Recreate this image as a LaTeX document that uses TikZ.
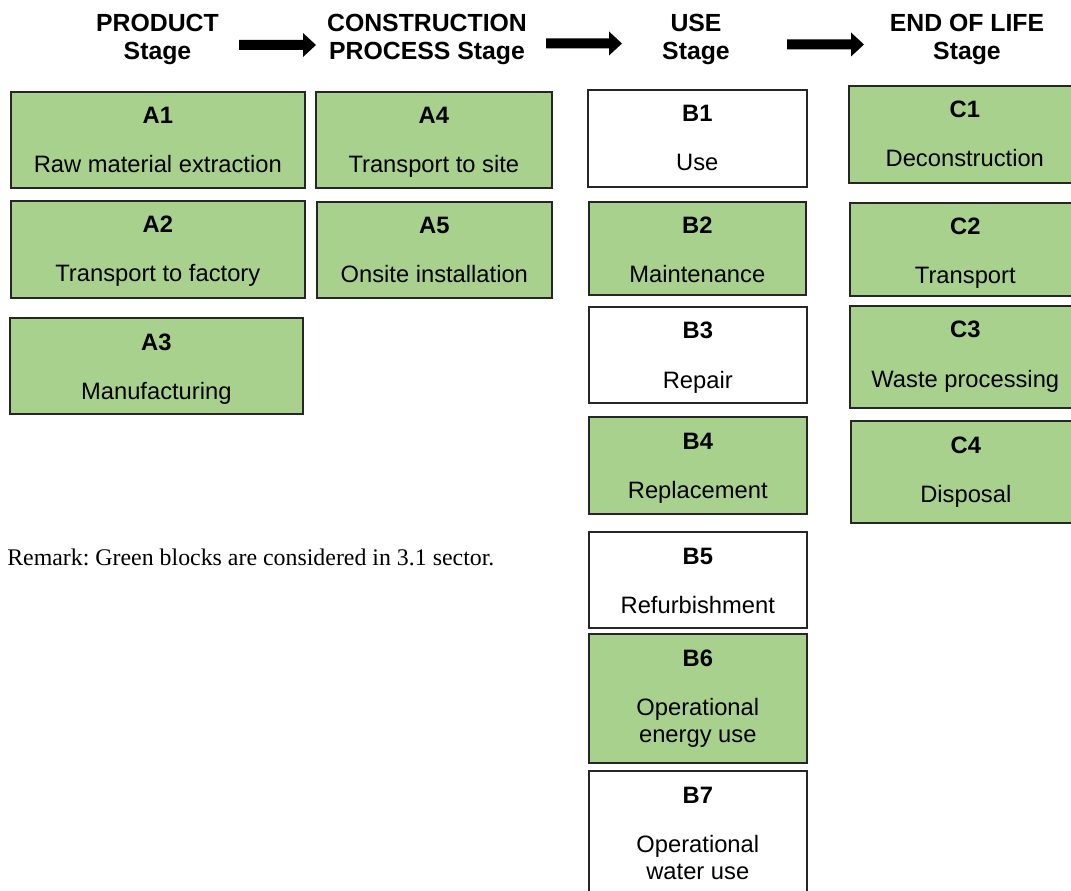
\documentclass[tikz,border=0pt]{standalone}
\usepackage{fontspec}
\setmainfont{Liberation Sans}
\newfontfamily\remarkfont{Liberation Serif}
\usetikzlibrary{calc}
\definecolor{blkgreen}{HTML}{A9D18E}
\definecolor{blkline}{HTML}{262626}
\frenchspacing

\newcommand\blkbox[8]{%
  \node[blk, fill=#2, minimum width={(#5-#3)*0.75pt}, minimum height={(#6-#4)*0.75pt}] (#1) at (#3,#4) {};
  \node[lbl] (#1-l) at ($(#1.north)+(0,33)$) {#7};
  \node[dsc] (#1-d) at ($(#1.north)+(0,82)$) {#8};
}
\newcommand\blkboxtwo[9]{%
  \node[blk, fill=#2, minimum width={(#5-#3)*0.75pt}, minimum height={(#6-#4)*0.75pt}] (#1) at (#3,#4) {};
  \node[lbl] (#1-l) at ($(#1.north)+(0,33)$) {#7};
  \node[dsc] (#1-d) at ($(#1.north)+(0,82)$) {#8};
  \node[dsc] (#1-e) at ($(#1.north)+(0,109)$) {#9};
}
\newcommand\bigarrow[4]{%
  \coordinate (#1-s) at (#2,#4);
  \coordinate (#1-t) at (#3,#4);
  \fill[black] ($(#1-s)+(0,-5)$) -- ($(#1-t)+(-13,-5)$) -- ($(#1-t)+(-13,-12)$) -- (#1-t)
    -- ($(#1-t)+(-13,12)$) -- ($(#1-t)+(-13,5)$) -- ($(#1-s)+(0,5)$) -- cycle;
}

\begin{document}
\begin{tikzpicture}[x=0.75pt,y=-0.75pt,
  blk/.style={draw=blkline, line width=1.2pt, rectangle, inner sep=0pt, anchor=north west},
  lbl/.style={font=\fontsize{17.8}{21}\selectfont\bfseries, anchor=base, inner sep=0pt},
  dsc/.style={font=\fontsize{17.8}{21}\selectfont, anchor=base, inner sep=0pt},
  hdr/.style={font=\fontsize{18.6}{22}\selectfont\bfseries, anchor=base, inner sep=0pt},
  remark/.style={font=\remarkfont\fontsize{17.9}{21}\selectfont, anchor=base west, inner sep=0pt}]
\useasboundingbox (0,0) rectangle (1071,891);
\clip (0,0) rectangle (1071,891);

% headers
\node[hdr] (h1a) at (157.5,32) {PRODUCT};
\node[hdr] (h1b) at (157.5,60) {Stage};
\node[hdr] (h2a) at (427,32) {CONSTRUCTION};
\node[hdr] (h2b) at (427,60) {PROCESS Stage};
\node[hdr] (h3a) at (696,32) {USE};
\node[hdr] (h3b) at (696,60) {Stage};
\node[hdr] (h4a) at (967,32) {END OF LIFE};
\node[hdr] (h4b) at (967,60) {Stage};

% arrows
\bigarrow{ar1}{239}{316}{45}
\bigarrow{ar2}{546}{622}{43.5}
\bigarrow{ar3}{787}{864}{44.5}

% product stage
\blkbox{A1}{blkgreen}{10}{91}{304}{187}{A1}{Raw material extraction}
\blkbox{A2}{blkgreen}{10}{200}{304}{297}{A2}{Transport to factory}
\blkbox{A3}{blkgreen}{9}{317}{302}{413}{A3}{Manufacturing}
% construction process stage
\blkbox{A4}{blkgreen}{315}{91}{551}{187}{A4}{Transport to site}
\blkbox{A5}{blkgreen}{316}{201}{551}{297}{A5}{Onsite installation}
% use stage
\blkbox{B1}{white}{587}{89}{806}{186}{B1}{Use}
\blkbox{B2}{blkgreen}{588}{201}{805}{294}{B2}{Maintenance}
\blkbox{B3}{white}{588}{306}{806}{402}{B3}{Repair}
\blkbox{B4}{blkgreen}{588}{416}{806}{513}{B4}{Replacement}
\blkbox{B5}{white}{588}{531}{806}{627}{B5}{Refurbishment}
\blkboxtwo{B6}{blkgreen}{588}{633}{806}{762}{B6}{Operational}{energy use}
\blkboxtwo{B7}{white}{588}{770}{806}{900}{B7}{Operational}{water use}
% end of life stage
\blkbox{C1}{blkgreen}{848}{85}{1080}{182}{C1}{Deconstruction}
\blkbox{C2}{blkgreen}{849}{202}{1080}{295}{C2}{Transport}
\blkbox{C3}{blkgreen}{849}{305}{1080}{407}{C3}{Waste processing}
\blkbox{C4}{blkgreen}{850}{420}{1080}{522}{C4}{Disposal}

% remark
\node[remark] (rem) at (7,565) {Remark: Green blocks are considered in 3.1 sector.};
\end{tikzpicture}
\end{document}
